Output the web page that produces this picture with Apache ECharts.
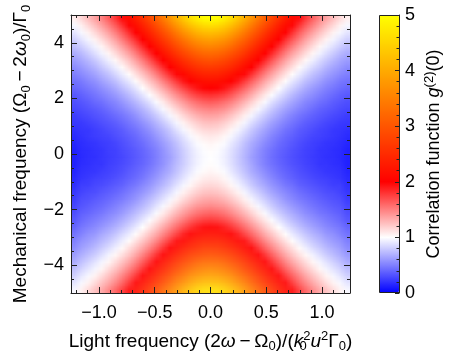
<!DOCTYPE html>
<html>
<head>
<meta charset="utf-8">
<script src="https://cdn.jsdelivr.net/npm/echarts@6/dist/echarts.min.js"></script>
<style>
html,body{margin:0;padding:0;background:#fff;}
#wrap{position:relative;width:454px;height:360px;}
#heat{position:absolute;left:71px;top:15px;width:279px;height:278px;}
#chart{position:absolute;left:0;top:0;width:454px;height:360px;}
</style>
</head>
<body>
<div id="wrap"><div id="heat"></div><div id="chart"></div></div>
<script>
// ---- sampled positions (the picture is mirror-symmetric in x and in y; one quadrant is read) ----
const xSamples = [0, 0.0625, 0.125, 0.1875, 0.25, 0.3125, 0.375, 0.4375, 0.5, 0.5625, 0.625,
                  0.6875, 0.75, 0.8125, 0.875, 0.9375, 1.0, 1.0625, 1.125, 1.1875, 1.25];
const ySamples = [0, 0.25, 0.5, 0.75, 1.0, 1.25, 1.5, 1.75, 2.0, 2.25, 2.5,
                  2.75, 3.0, 3.25, 3.5, 3.75, 4.0, 4.25, 4.5, 4.75, 5.0];

// ---- estimated g2(0) values, one array per y sample, columns follow xSamples ----
const g2_y000 = [1.00,0.98,0.94,0.87,0.79,0.70,0.62,0.55,0.48,0.42,0.37,0.33,0.29,0.26,0.23,0.21,0.19,0.17,0.16,0.14,0.13];
const g2_y025 = [1.01,0.99,0.95,0.88,0.80,0.72,0.64,0.56,0.49,0.43,0.38,0.34,0.30,0.27,0.24,0.22,0.19,0.18,0.16,0.15,0.13];
const g2_y050 = [1.04,1.02,0.98,0.91,0.84,0.75,0.67,0.60,0.53,0.47,0.41,0.37,0.33,0.29,0.26,0.23,0.21,0.19,0.18,0.16,0.15];
const g2_y075 = [1.09,1.07,1.03,0.97,0.89,0.81,0.73,0.65,0.58,0.51,0.45,0.40,0.36,0.32,0.29,0.26,0.24,0.22,0.20,0.18,0.17];
const g2_y100 = [1.16,1.15,1.10,1.04,0.96,0.88,0.79,0.71,0.64,0.57,0.51,0.45,0.41,0.36,0.33,0.30,0.27,0.25,0.22,0.21,0.19];
const g2_y125 = [1.25,1.24,1.19,1.13,1.05,0.96,0.87,0.79,0.71,0.63,0.57,0.51,0.46,0.41,0.37,0.34,0.31,0.28,0.26,0.23,0.22];
const g2_y150 = [1.36,1.35,1.30,1.23,1.15,1.06,0.96,0.87,0.79,0.71,0.64,0.57,0.51,0.46,0.42,0.38,0.35,0.32,0.29,0.27,0.24];
const g2_y175 = [1.49,1.47,1.43,1.36,1.27,1.17,1.07,0.97,0.88,0.79,0.71,0.64,0.58,0.52,0.48,0.43,0.39,0.36,0.33,0.30,0.28];
const g2_y200 = [1.64,1.62,1.57,1.50,1.40,1.30,1.19,1.08,0.98,0.88,0.80,0.72,0.65,0.59,0.53,0.49,0.44,0.41,0.37,0.34,0.31];
const g2_y225 = [1.81,1.79,1.74,1.66,1.55,1.44,1.32,1.20,1.09,0.99,0.89,0.81,0.73,0.66,0.60,0.55,0.50,0.46,0.42,0.38,0.35];
const g2_y250 = [2.00,1.98,1.92,1.83,1.72,1.60,1.47,1.34,1.22,1.10,1.00,0.90,0.82,0.74,0.67,0.61,0.56,0.51,0.47,0.43,0.40];
const g2_y275 = [2.21,2.19,2.13,2.03,1.91,1.77,1.63,1.49,1.35,1.23,1.11,1.01,0.91,0.83,0.75,0.69,0.63,0.57,0.53,0.48,0.45];
const g2_y300 = [2.44,2.42,2.35,2.24,2.11,1.96,1.81,1.65,1.50,1.36,1.23,1.12,1.01,0.92,0.84,0.76,0.70,0.64,0.59,0.54,0.50];
const g2_y325 = [2.69,2.66,2.59,2.48,2.33,2.17,2.00,1.83,1.66,1.51,1.37,1.24,1.13,1.02,0.93,0.85,0.78,0.71,0.65,0.60,0.55];
const g2_y350 = [2.96,2.93,2.85,2.73,2.57,2.39,2.20,2.02,1.84,1.67,1.51,1.37,1.24,1.13,1.03,0.94,0.86,0.79,0.72,0.66,0.61];
const g2_y375 = [3.25,3.22,3.13,2.99,2.82,2.63,2.42,2.22,2.02,1.84,1.67,1.51,1.37,1.25,1.14,1.04,0.95,0.87,0.80,0.73,0.68];
const g2_y400 = [3.56,3.53,3.43,3.28,3.09,2.88,2.66,2.43,2.22,2.02,1.83,1.66,1.51,1.37,1.25,1.14,1.04,0.95,0.88,0.81,0.75];
const g2_y425 = [3.89,3.85,3.75,3.59,3.38,3.15,2.91,2.67,2.43,2.21,2.01,1.82,1.66,1.51,1.37,1.25,1.14,1.05,0.96,0.89,0.82];
const g2_y450 = [4.24,4.20,4.09,3.91,3.69,3.44,3.17,2.91,2.65,2.41,2.19,1.99,1.81,1.64,1.50,1.37,1.25,1.15,1.05,0.97,0.90];
const g2_y475 = [4.61,4.57,4.44,4.25,4.01,3.74,3.45,3.16,2.89,2.62,2.38,2.16,1.97,1.79,1.63,1.49,1.36,1.25,1.15,1.05,0.97];
const g2_y500 = [5.00,4.95,4.82,4.61,4.35,4.06,3.75,3.44,3.13,2.85,2.59,2.35,2.14,1.95,1.77,1.62,1.48,1.36,1.25,1.15,1.06];

// ---- tick labels ----
const xTickValues = [-1, -0.5, 0, 0.5, 1];
const xTickLabels = ['\u22121.0', '\u22120.5', '0.0', '0.5', '1.0'];
const yTickValues = [-4, -2, 0, 2, 4];
const yTickLabels = ['\u22124', '\u22122', '0', '2', '4'];
const cbTickValues = [0, 1, 2, 3, 4, 5];
const cbTickLabels = ['0', '1', '2', '3', '4', '5'];

// ---- build the full table by mirroring the read quadrant ----
const g2Rows = [g2_y000,g2_y025,g2_y050,g2_y075,g2_y100,g2_y125,g2_y150,g2_y175,g2_y200,g2_y225,g2_y250,
                g2_y275,g2_y300,g2_y325,g2_y350,g2_y375,g2_y400,g2_y425,g2_y450,g2_y475,g2_y500];
const nQ = xSamples.length - 1;
const xFull = xSamples.slice(1).reverse().map(v => -v).concat(xSamples);
const yFull = ySamples.slice(1).reverse().map(v => -v).concat(ySamples);
const heat = [];
for (let j = 0; j < yFull.length; j++) {
  const row = g2Rows[Math.abs(j - nQ)];
  for (let i = 0; i < xFull.length; i++) heat.push([i, j, row[Math.abs(i - nQ)]]);
}

const FONT = "'Liberation Sans', Arial, Helvetica, sans-serif";
const INK = '#222';
const RAMP = ['#0000ff', '#ffffff', '#ff0000', '#ff5500', '#ffaa00', '#ffff00'];
function lookup(vals, labels) {
  return function (v) {
    const k = vals.findIndex(t => Math.abs(t - v) < 1e-9);
    return k < 0 ? '' : labels[k];
  };
}
function richFor(size) {
  return {
    i:   {fontFamily: FONT, fontSize: size, fontStyle: 'italic', color: '#000', lineHeight: size + 4},
    sub: {fontFamily: FONT, fontSize: 13, color: '#000', lineHeight: 13, verticalAlign: 'bottom'},
    subz:{fontFamily: FONT, fontSize: 13, color: '#000', lineHeight: 13, verticalAlign: 'bottom', width: 0},
    sup: {fontFamily: FONT, fontSize: 13, color: '#000', lineHeight: 13, verticalAlign: 'top'}
  };
}
function nameStyle(size) {
  return {fontFamily: FONT, fontSize: size, color: '#000', lineHeight: size + 4, rich: richFor(size)};
}

const G = {left: 71, top: 15, width: 279, height: 278};
const CB = {left: 379, top: 15, width: 20, height: 278};

function frameAxis(extra) {
  return Object.assign({
    gridIndex: 0, type: 'value', z: 10,
    axisLine: {show: true, onZero: false, lineStyle: {color: INK, width: 1}},
    axisTick: {show: true, inside: true, length: 6, lineStyle: {color: INK, width: 1}},
    splitLine: {show: false}, minorSplitLine: {show: false}
  }, extra);
}

// ---- heatmap layer: drawn by ECharts on a low-resolution canvas, one canvas pixel per cell,
//      which the browser displays smoothly at plot size ----
const heatChart = echarts.init(document.getElementById('heat'), null,
  {renderer: 'canvas', devicePixelRatio: xFull.length / G.width});
heatChart.setOption({
  animation: false,
  grid: {left: 0, top: 0, right: 0, bottom: 0, containLabel: false},
  xAxis: {type: 'category', data: xFull.map(String), show: false},
  yAxis: {type: 'category', data: yFull.map(String), show: false},
  visualMap: {type: 'continuous', min: 0, max: 5, dimension: 2, show: false, inRange: {color: RAMP}},
  series: [{type: 'heatmap', data: heat, progressive: 0, itemStyle: {borderWidth: 0}, emphasis: {disabled: true}}]
});

// ---- frame, axes, colour bar and texts ----
const chart = echarts.init(document.getElementById('chart'), null, {renderer: 'canvas'});
chart.setOption({
  animation: false,
  backgroundColor: 'transparent',
  grid: [
    Object.assign({}, G, {containLabel: false}),
    Object.assign({}, CB, {containLabel: false})
  ],
  xAxis: [
    frameAxis({position: 'bottom', min: -1.25, max: 1.25, splitNumber: 5,
      minorTick: {show: true, splitNumber: 5, length: 3, lineStyle: {color: INK}},
      axisLabel: {show: true, fontFamily: FONT, fontSize: 18, color: '#000', margin: 11,
                  showMinLabel: false, showMaxLabel: false, formatter: lookup(xTickValues, xTickLabels)},
      name: 'Light frequency (2{i|\u03c9}\u2009\u2212\u2009\u03a9{sub|0})/({i|k}{subz|0}{sup|2}{i|u}{sup|2}\u0393{sub|0})',
      nameLocation: 'middle', nameGap: 37, nameTextStyle: nameStyle(19)}),
    frameAxis({position: 'top', min: -1.25, max: 1.25, splitNumber: 5,
      minorTick: {show: true, splitNumber: 5, length: 3, lineStyle: {color: INK}},
      axisLabel: {show: false}}),
    {gridIndex: 1, type: 'value', min: 0, max: 1, show: false}
  ],
  yAxis: [
    frameAxis({position: 'left', min: -5, max: 5, splitNumber: 5,
      minorTick: {show: true, splitNumber: 4, length: 3, lineStyle: {color: INK}},
      axisLabel: {show: true, fontFamily: FONT, fontSize: 18, color: '#000', margin: 7,
                  showMinLabel: false, showMaxLabel: false, formatter: lookup(yTickValues, yTickLabels)},
      name: 'Mechanical frequency (\u03a9{sub|0}\u2009\u2212\u20092{i|\u03c9}{sub|0})/\u0393{sub|0}',
      nameLocation: 'middle', nameRotate: 90, nameGap: 35, nameTextStyle: nameStyle(19)}),
    frameAxis({position: 'right', min: -5, max: 5, splitNumber: 5,
      minorTick: {show: true, splitNumber: 4, length: 3, lineStyle: {color: INK}},
      axisLabel: {show: false}}),
    {gridIndex: 1, type: 'value', position: 'right', min: 0, max: 5, interval: 1, z: 10,
      axisLine: {show: true, onZero: false, lineStyle: {color: INK}},
      axisTick: {show: true, inside: true, length: 4, lineStyle: {color: INK}},
      minorTick: {show: true, splitNumber: 5, length: 2.5, lineStyle: {color: INK}},
      splitLine: {show: false},
      axisLabel: {show: true, fontFamily: FONT, fontSize: 18, color: '#000', margin: 6,
                  formatter: lookup(cbTickValues, cbTickLabels)},
      name: 'Correlation function {i|g}{sup|(2)}(0)',
      nameLocation: 'middle', nameRotate: 90, nameGap: 24, nameTextStyle: nameStyle(18)}
  ],
  visualMap: {
    type: 'continuous', min: 0, max: 5, seriesIndex: [],
    show: true, calculable: false, hoverLink: false, padding: 0,
    left: CB.left, top: CB.top, itemWidth: CB.width, itemHeight: CB.height,
    inRange: {color: RAMP}
  },
  graphic: [{
    type: 'rect', z: 100, silent: true,
    shape: {x: CB.left + 0.5, y: CB.top + 0.5, width: CB.width, height: CB.height - 1},
    style: {fill: null, stroke: INK, lineWidth: 1}
  }],
  series: []
});
</script>
</body>
</html>
